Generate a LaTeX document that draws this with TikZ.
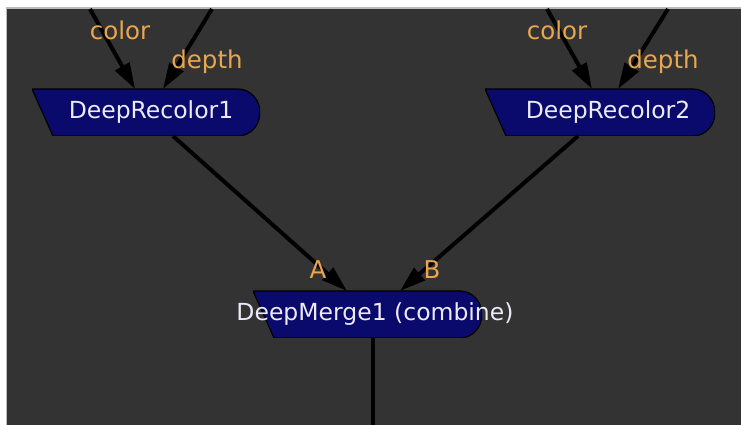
\documentclass[tikz,border=0pt]{standalone}
\usepackage{fontspec}
\setmainfont{DejaVu Sans}
\usetikzlibrary{
    arrows.meta,
    calc,
    positioning
}
\definecolor{nukebg}{HTML}{333333}
\definecolor{nukeblue}{HTML}{0A0A6C}
\definecolor{nukeorange}{HTML}{E9A64E}
\definecolor{nuketext}{HTML}{ECEAF8}

\begin{document}
\begin{tikzpicture}[x=1pt, y=1pt, >={Triangle[length=26pt, width=16pt]},
    deep/.style={minimum height=47pt, inner sep=0pt, outer sep=0pt, fill=nukebg,
                 path picture={
                   \fill[nukeblue, draw=black, line width=1.2pt]
                     (path picture bounding box.north west)
                     -- ([xshift=-22pt]path picture bounding box.north east)
                     arc[start angle=90, end angle=-90, x radius=22pt, y radius=23.5pt]
                     -- ([xshift=21pt]path picture bounding box.south west) -- cycle;}},
    nodelabel/.style={font=\fontsize{23.5}{28}\selectfont, text=nuketext, inner sep=0pt},
    portlabel/.style={font=\fontsize{24.5}{28}\selectfont, text=nukeorange, inner sep=0pt},
    pipe/.style={line width=4pt, black}]
    \useasboundingbox (0,0) rectangle (741,425);
    % backdrop
    \fill[white] (0,0) rectangle (741,425);
    \fill[nukebg] (7,0) rectangle (741,416);
    \draw[gray!55, line width=1.5pt] (6.25,0) -- (6.25,416.75) -- (741,416.75);

    \node[deep, minimum width=228pt,
          label={[nodelabel, xshift=5pt]center:DeepRecolor1}] (recolor1) at (146,312.5) {};
    \node[deep, minimum width=230pt,
          label={[nodelabel, xshift=8pt]center:DeepRecolor2}] (recolor2) at (600,312.5) {};
    \node[deep, minimum width=229pt,
          label={[nodelabel, xshift=7.5pt]center:DeepMerge1 (combine)}] (merge1) at (367.5,110.5) {};

    \coordinate (color1) at (90,416);
    \coordinate (depth1) at (212,416);
    \coordinate (color2) at (547,416);
    \coordinate (depth2) at (668,416);
    \coordinate (output) at (373,0);

    \draw[pipe, ->] (color1) -- ([xshift=-11pt]recolor1.north);
    \draw[pipe, ->] (depth1) -- ([xshift=17pt]recolor1.north);
    \draw[pipe, ->] (color2) -- ([xshift=-8pt]recolor2.north);
    \draw[pipe, ->] (depth2) -- ([xshift=18pt]recolor2.north);
    \draw[pipe, ->] ([xshift=27pt]recolor1.south) -- ([xshift=-20.5pt]merge1.north);
    \draw[pipe, ->] ([xshift=-22pt]recolor2.south) -- ([xshift=32.5pt]merge1.north);
    \draw[pipe] ([xshift=5.5pt]merge1.south) -- (output);

    % input names
    \node[portlabel] (colorlab1) at (120,395) {color};
    \node[portlabel] (depthlab1) at (207,363) {depth};
    \node[portlabel] (colorlab2) at (557,395) {color};
    \node[portlabel] (depthlab2) at (663,363) {depth};
    \node[portlabel] (inputA) at (318,155) {A};
    \node[portlabel] (inputB) at (432,155) {B};
\end{tikzpicture}
\end{document}
